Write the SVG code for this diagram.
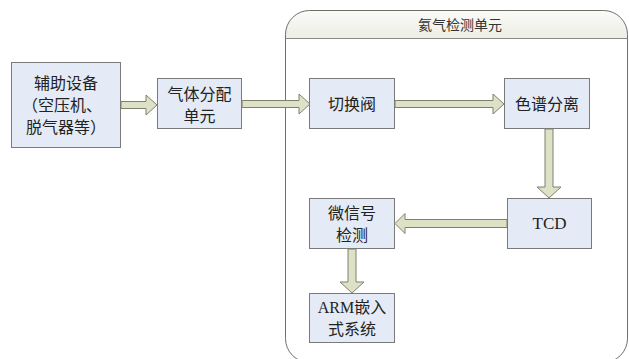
<svg xmlns="http://www.w3.org/2000/svg" width="629" height="359" viewBox="0 0 629 359">
<defs>
<linearGradient id="hdr" x1="0" y1="0" x2="0" y2="1">
<stop offset="0" stop-color="#fbfbf8"/>
<stop offset="1" stop-color="#ecede4"/>
</linearGradient>
</defs>
<style>
.box{fill:#e4ebf6;stroke:#7a7a7a;stroke-width:1}
.t{font-family:"Liberation Serif","Noto Sans CJK SC",serif;font-size:16px;fill:#222;text-anchor:middle;dominant-baseline:central}
.lat{font-family:"Liberation Serif",serif;font-size:17px;fill:#222;text-anchor:middle;dominant-baseline:central}
.arr{fill:#dde1c6;stroke:#7f8070;stroke-width:1;stroke-linejoin:miter}
</style>
<rect width="629" height="359" fill="#ffffff"/>
<g id="container">
<path d="M285.5,38.5 V34.5 A24,24 0 0 1 309.5,10.5 H603.5 A24,24 0 0 1 627.5,34.5 V38.5 Z" fill="url(#hdr)"/>
<rect x="285.5" y="10.5" width="342" height="352" rx="24" ry="24" fill="none" stroke="#6e6e6e" stroke-width="1"/>
<line x1="285.5" y1="38.5" x2="627.5" y2="38.5" stroke="#8a8a8a" stroke-width="1"/>
<text class="t" x="460" y="25" style="font-size:14px;fill:#333">氦气检测单元</text>
</g>
<g id="connectors">
<path class="arr" d="M121,101.5 H146 V95 L157,105 L146,115 V108.5 H121 Z"/>
<path class="arr" d="M242,100.5 H299 V94 L310,104 L299,114 V107.5 H242 Z"/>
<path class="arr" d="M395,100.5 H493 V94 L504,104 L493,114 V107.5 H395 Z"/>
<path class="arr" d="M545,129 V187 H537 L549,198 L561,187 H553 V129 Z"/>
<path class="arr" d="M507,219.5 H405 V213.5 L395,223.5 L405,233.5 V227.5 H507 Z"/>
<path class="arr" d="M348,249 V282 H340 L352,293 L364,282 H356 V249 Z"/>
</g>
<g id="aux">
<rect class="box" x="11.5" y="62.5" width="109" height="85"/>
<text class="t" x="66" y="83">辅助设备</text>
<text class="t" x="62" y="105">（空压机、</text>
<text class="t" x="66" y="127">脱气器等）</text>
</g>
<g id="gasdist">
<rect class="box" x="157.5" y="78.5" width="84" height="50"/>
<text class="t" x="199.5" y="94">气体分配</text>
<text class="t" x="199.5" y="116">单元</text>
</g>
<g id="valve">
<rect class="box" x="309.5" y="78.5" width="85" height="50"/>
<text class="t" x="352" y="104">切换阀</text>
</g>
<g id="chrom">
<rect class="box" x="504.5" y="78.5" width="85" height="50"/>
<text class="t" x="547" y="104">色谱分离</text>
</g>
<g id="tcd">
<rect class="box" x="507.5" y="198.5" width="84" height="50"/>
<text class="lat" x="549.5" y="223">TCD</text>
</g>
<g id="micro">
<rect class="box" x="309.5" y="198.5" width="85" height="50"/>
<text class="t" x="352" y="213">微信号</text>
<text class="t" x="352" y="235">检测</text>
</g>
<g id="arm">
<rect class="box" x="309.5" y="293.5" width="85" height="49"/>
<text class="t" x="352" y="307">ARM嵌入</text>
<text class="t" x="352" y="329">式系统</text>
</g>
</svg>
